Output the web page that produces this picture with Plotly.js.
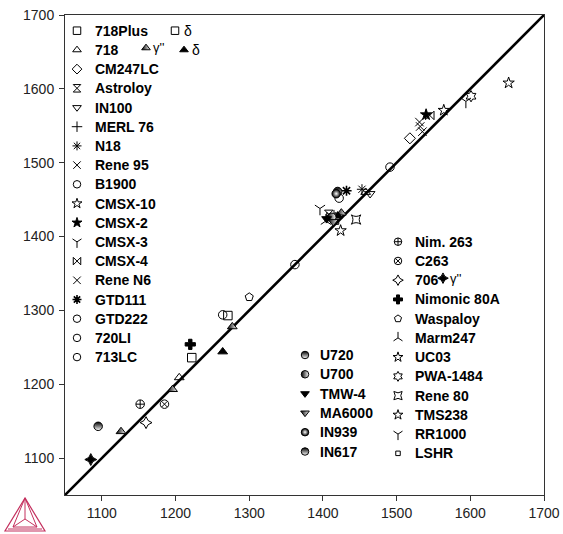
<!DOCTYPE html>
<html><head><meta charset="utf-8">
<script src="https://cdn.plot.ly/plotly-3.0.1.min.js"></script>
<style>html,body{margin:0;padding:0;background:#fff}#chart{width:563px;height:534px}</style>
</head><body><div id="chart"></div>
<script>
// ---- data ----
const seriesNames = ['718Plus','718Plus δ','718','718 γ″','718 δ','CM247LC','Astroloy','IN100','MERL 76','N18','Rene 95','B1900','CMSX-10','CMSX-2','CMSX-3','CMSX-4','Rene N6','GTD111','GTD222','720LI','713LC','Nim. 263','C263','706','706 γ″','Nimonic 80A','Waspaloy','Marm247','UC03','PWA-1484','Rene 80','TMS238','RR1000','LSHR','U720','U700','TMW-4','MA6000','IN939','IN617'];
const seriesX = [[1222],[1271],[1205,1458],[1126,1196,1277,1425],[1264,1420],[1518],[1408],[1464],[1415],[1453],[1410],[1491],[1652],[1540],[1594],[1545,1411],[1531,1532,1535],[1432],[1264],[1362],[1422],[1152],[1185],[1160],[1085],[1220],[1300],[1404],[1564],[1601],[1445],[1424],[1396],[1418],[1420],[1412],[1405],[1414],[1418],[1095]];
const seriesY = [[1236],[1293],[1209,1460],[1136,1193,1278,1432],[1244,1428],[1533],[1430],[1458],[1428],[1464],[1424],[1494],[1608],[1565],[1583],[1564,1427],[1555,1549,1542],[1462],[1294],[1362],[1452],[1173],[1173],[1148],[1098],[1254],[1318],[1421],[1571],[1590],[1423],[1408],[1438],[1420],[1461],[1426],[1424],[1420],[1458],[1143]];
const diagX = [1050,1700];
const diagY = [1050,1700];
const tickVals = [1100,1200,1300,1400,1500,1600,1700];
const legendLeft = ['718Plus','718','CM247LC','Astroloy','IN100','MERL 76','N18','Rene 95','B1900','CMSX-10','CMSX-2','CMSX-3','CMSX-4','Rene N6','GTD111','GTD222','720LI','713LC'];
const legendMid = ['U720','U700','TMW-4','MA6000','IN939','IN617'];
const legendRight = ['Nim. 263','C263','706','Nimonic 80A','Waspaloy','Marm247','UC03','PWA-1484','Rene 80','TMS238','RR1000','LSHR'];

// ---- styles ----
const styles = {
 '718Plus':{s:'square-open'}, '718Plus δ':{s:'square-open'}, '718':{s:'triangle-up-open'},
 '718 γ″':{s:'triangle-up',g:'horizontal'}, '718 δ':{s:'triangle-up'}, 'CM247LC':{s:'diamond-open'},
 'Astroloy':{s:'hourglass-open'}, 'IN100':{s:'triangle-down-open'}, 'MERL 76':{s:'cross-thin-open'},
 'N18':{s:'asterisk-open'}, 'Rene 95':{s:'x-thin-open'}, 'B1900':{s:'circle-open'},
 'CMSX-10':{s:'star-open'}, 'CMSX-2':{s:'star'}, 'CMSX-3':{s:'y-down-open'}, 'CMSX-4':{s:'bowtie-open'},
 'Rene N6':{s:'x-thin-open'}, 'GTD111':{s:'asterisk-open',w:1.6}, 'GTD222':{s:'circle-open'},
 '720LI':{s:'circle-open'}, '713LC':{s:'circle-open'}, 'Nim. 263':{s:'circle-cross-open'},
 'C263':{s:'circle-x-open'}, '706':{s:'star-diamond-open'}, '706 γ″':{s:'star-diamond'},
 'Nimonic 80A':{s:'cross'}, 'Waspaloy':{s:'pentagon-open'}, 'Marm247':{s:'y-up-open'},
 'UC03':{s:'star-open'}, 'PWA-1484':{s:'hexagram-open'}, 'Rene 80':{s:'star-square-open'},
 'TMS238':{s:'star-open'}, 'RR1000':{s:'y-down-open'}, 'LSHR':{s:'square-open',sz:0.6},
 'U720':{s:'circle',g:'vertical'}, 'U700':{s:'circle',g:'horizontal'}, 'TMW-4':{s:'triangle-down'},
 'MA6000':{s:'triangle-down',g:'horizontal'}, 'IN939':{s:'circle',g:'radial'}, 'IN617':{s:'circle',g:'vertical'}
};
function mk(name,size){
  const st = styles[name];
  const m = {symbol:st.s,size:size*(st.sz||1),color:'#000',line:{color:'#000',width:st.w||1}};
  if(st.g){ m.gradient={type:st.g,color:'#fff'}; }
  return m;
}
const FONT = 'Liberation Sans, Arial, sans-serif';
const traces = [];
traces.push({x:diagX,y:diagY,mode:'lines',line:{color:'#000',width:2.6},hoverinfo:'skip',showlegend:false});
seriesNames.forEach((n,i)=>{
  traces.push({x:seriesX[i],y:seriesY[i],mode:'markers',name:n,marker:mk(n,8.5),showlegend:false,cliponaxis:false});
});
// legend (overlay axes in plot-pixel units)
const annotations = [];
function addLegend(list,sx,tx,y0,step){
  list.forEach((n,i)=>{
    const y = y0+i*step;
    traces.push({x:[sx],y:[y],xaxis:'x2',yaxis:'y2',mode:'markers',marker:mk(n,7.5),showlegend:false,hoverinfo:'skip'});
    annotations.push({xref:'x2',yref:'y2',x:tx,y:y,text:n,showarrow:false,xanchor:'left',yanchor:'middle',
      font:{family:FONT,size:14,weight:'bold',color:'#000'}});
  });
}
addLegend(legendLeft,12,28,15.7,19.2);
addLegend(legendMid,240,253,340,19.3);
addLegend(legendRight,333,348,226.7,19.24);
// inline extra entries
function extra(name,sx,tx,y,txt,sz){
  traces.push({x:[sx],y:[y],xaxis:'x2',yaxis:'y2',mode:'markers',marker:mk(name,7.5),showlegend:false,hoverinfo:'skip'});
  annotations.push({xref:'x2',yref:'y2',x:tx,y:y,text:txt,showarrow:false,xanchor:'left',yanchor:'middle',
    font:{family:FONT,size:sz||14,color:'#000'}});
}
extra('718Plus δ',110,117,15.7,'δ');
extra('718 γ″',81,86,15.7+19.2-2,'γ\'\'',13);
extra('718 δ',119,125,15.7+19.2,'δ');
extra('706 γ″',378,383,226.7+2*19.24-2,'γ\'\'',13);

// logo (pixel -> paper)
const L=65,T=15,W=479,H=480;
const px=(x)=>(x-L)/W, py=(y)=>(T+H-y)/H;
function path(pts){return 'M'+pts.map(p=>px(p[0]).toFixed(4)+','+py(p[1]).toFixed(4)).join(' L')+' Z';}
const crim='#c4305e';
const A=[25,498],B=[5,531],C=[45,531],G=[25,519];
const shapes=[
 {type:'path',xref:'paper',yref:'paper',path:path([A,B,C]),line:{color:crim,width:1.2}},
 {type:'path',xref:'paper',yref:'paper',path:path([A,[13,527],[37,527]]),line:{color:crim,width:1}},
 {type:'line',xref:'paper',yref:'paper',x0:px(A[0]),y0:py(A[1]),x1:px(G[0]),y1:py(G[1]),line:{color:crim,width:1}},
 {type:'line',xref:'paper',yref:'paper',x0:px(13),y0:py(527),x1:px(G[0]),y1:py(G[1]),line:{color:crim,width:1}},
 {type:'line',xref:'paper',yref:'paper',x0:px(37),y0:py(527),x1:px(G[0]),y1:py(G[1]),line:{color:crim,width:1}},
 {type:'line',xref:'paper',yref:'paper',x0:px(8),y0:py(529),x1:px(42),y1:py(529),line:{color:crim,width:1}}
];
const axBase = {range:[1050,1700],tickvals:tickVals,ticks:'outside',ticklen:5,tickwidth:1,tickcolor:'#333',
  showline:true,linecolor:'#333',linewidth:1,mirror:true,showgrid:false,zeroline:false,
  tickfont:{family:FONT,size:14,color:'#222'}};
const layout = {
  width:563,height:534,margin:{l:L,r:563-L-W,t:T,b:534-T-H},
  paper_bgcolor:'#fff',plot_bgcolor:'#fff',showlegend:false,hovermode:false,
  xaxis:Object.assign({},axBase),
  yaxis:Object.assign({},axBase,{ticklabelstandoff:2}),
  xaxis2:{overlaying:'x',range:[0,W],visible:false,anchor:'y2'},
  yaxis2:{overlaying:'y',range:[H,0],visible:false,anchor:'x2'},
  annotations:annotations, shapes:shapes
};
Plotly.newPlot('chart',traces,layout,{staticPlot:true,displayModeBar:false});
</script></body></html>
